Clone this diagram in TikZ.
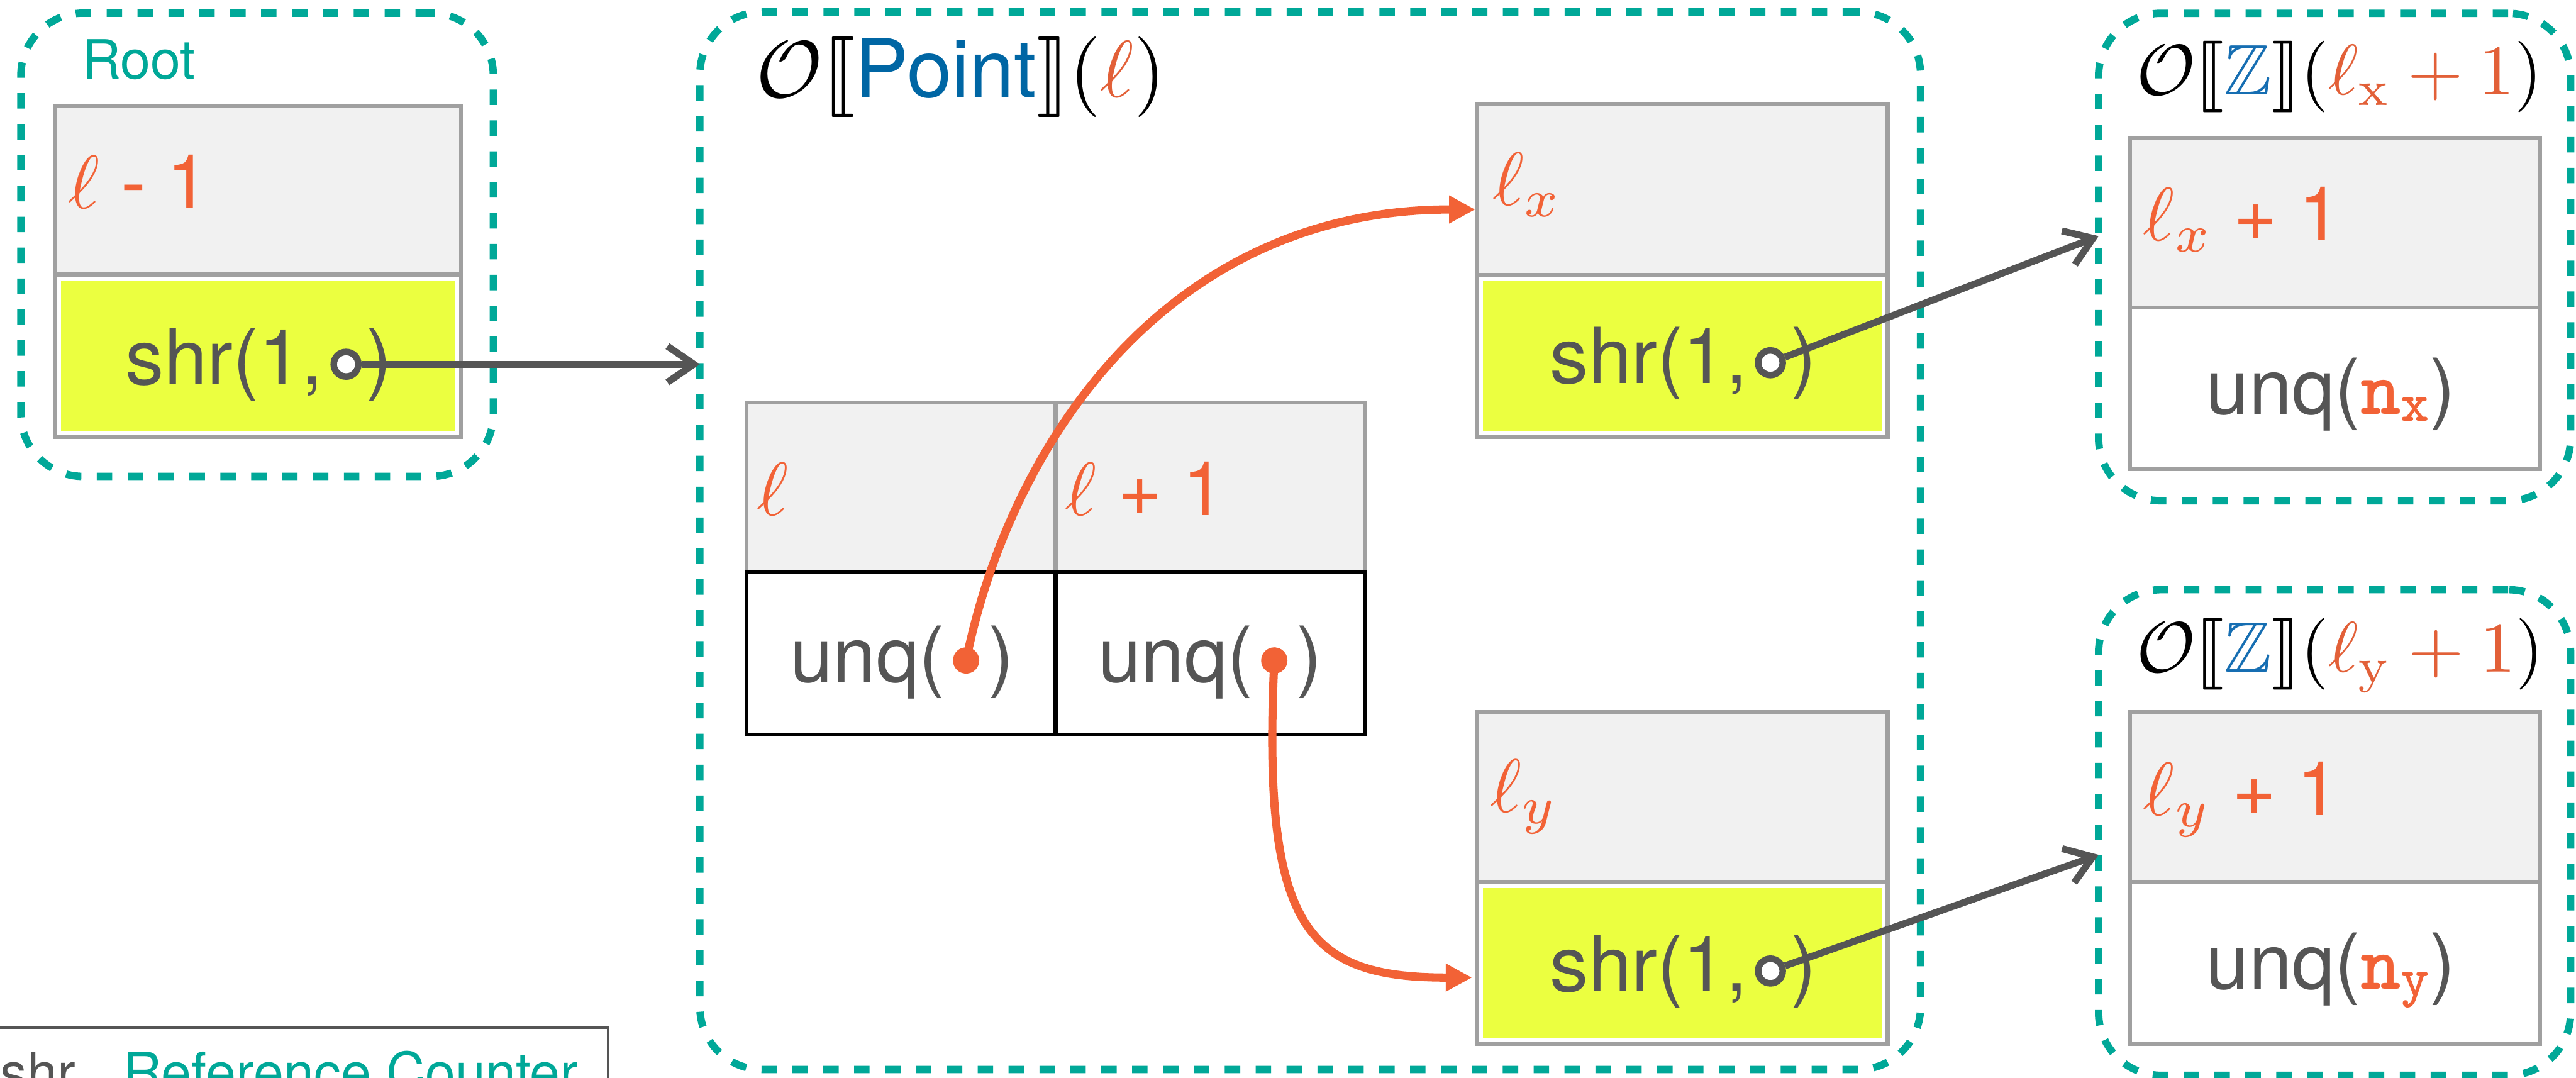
\documentclass[tikz,border=0pt]{standalone}
\usepackage[no-math]{fontspec}
\setmainfont{TeX Gyre Heros}
\usepackage{amssymb}
\usepackage{stmaryrd}
\usepackage{graphicx}
\usetikzlibrary{arrows.meta,fit}

\definecolor{rcteal}{RGB}{0,168,152}
\definecolor{accent}{RGB}{242,98,54}
\definecolor{titleaccent}{RGB}{226,96,56}
\definecolor{ink}{RGB}{85,85,85}
\definecolor{cellline}{RGB}{160,160,160}
\definecolor{hdrfill}{RGB}{241,241,241}
\definecolor{shrfill}{RGB}{235,255,64}
\definecolor{typeblue}{RGB}{0,102,164}
\definecolor{zblue}{RGB}{22,110,178}

% text sizes (10pt base, scaled)
\newcommand{\cellsz}[1]{\scalebox{4.7}{#1}}
\newcommand{\hdrsz}[1]{\scalebox{4.6}{\color{accent}#1}}
\newcommand{\smallsz}[1]{\scalebox{3.3}{#1}}
\newcommand{\codeid}[2]{{\color{accent}\ttfamily\bfseries #1\raisebox{-0.9pt}{\fontsize{7}{7}\selectfont #2}}}

\begin{document}
\begin{tikzpicture}[x=1pt,y=-1pt,
  dbox/.style={draw=rcteal, line width=4.5pt, dash pattern=on 9.4pt off 9.4pt,
               rounded corners=38pt, inner sep=0pt, outer sep=0pt},
  cell/.style={rectangle, inner sep=0pt, outer sep=0pt, line width=2.4pt},
  hdr/.style={cell, draw=cellline, fill=hdrfill},
  plain/.style={cell, draw=cellline, fill=white},
  strong/.style={cell, draw=black, fill=white},
  txt/.style={inner sep=0pt, outer sep=0pt, anchor=base west, text=ink},
  ring/.style={circle, draw=ink, fill=white, line width=4pt, minimum size=15pt, inner sep=0pt},
  refdot/.style={circle, fill=accent, minimum size=16pt, inner sep=0pt},
  garrow/.style={draw=ink, line width=4.2pt, -{Straight Barb[length=16pt, width=22pt]}},
  oarrow/.style={draw=accent, line width=5pt, -{Triangle[length=16pt, width=16pt]}},
]
\useasboundingbox (0,0) rectangle (1568,656);
\clip (0,0) rectangle (1568,656);

% ---- group frames ----
\node[dbox, fit={(12.7,8) (300.3,290)}] (rootbox) {};
\node[dbox, fit={(426,7.3) (1169,651)}] (midbox) {};
\node[dbox, fit={(1277.4,8.1) (1564.7,304.8)}] (rtbox) {};
\node[dbox, fit={(1277.4,358.9) (1564.7,654.5)}] (rbbox) {};

% ---- Root ----
\node[txt, text=rcteal] (rootlbl) at (49.8,48.2) {\smallsz{Root}};
\node[hdr, fit={(33.5,64.2) (280.5,167.1)}] (rootH) {};
\node[plain, fit={(33.5,167.1) (280.5,265.9)}] (rootS) {};
\fill[shrfill] ([shift={(3.8,3.8)}]rootS.north west) rectangle ([shift={(-3.8,-3.8)}]rootS.south east);
\node[txt] (rootHt) at (41.6,127) {\hdrsz{$\ell$ - 1}};
\node[txt] (rootSt) at (76.5,234.2) {\cellsz{shr(1,}};
\node[ring] (rootring) at ([shift={(14,-12.5)}]rootSt.base east) {};
\node[txt] (rootSp) at ([xshift=26.5pt]rootSt.base east) {\cellsz{)}};

% ---- O[[Point]](l) ----
\node[txt, text=black] (midtitle) at (460.5,59) {\scalebox{4.9}{$\mathcal{O}\llbracket\mbox{\color{typeblue}Point}\rrbracket(\textcolor{titleaccent}{\ell})$}};
\node[hdr, fit={(454.5,245) (642.5,348.4)}] (pl) {};
\node[hdr, fit={(642.5,245) (831,348.4)}] (pr) {};
\node[strong, fit={(454.5,348.4) (642.5,447)}] (ul) {};
\node[strong, fit={(642.5,348.4) (831,447)}] (ur) {};
\node[txt] (plt) at (460.6,313.8) {\hdrsz{$\ell$}};
\node[txt] (prt) at (648.4,313.8) {\hdrsz{$\ell$ + 1}};
\node[txt] (ult) at (481,415) {\cellsz{unq(}};
\node[refdot] (dotl) at ([shift={(13,-13)}]ult.base east) {};
\node[txt] (ulp) at ([xshift=26.5pt]ult.base east) {\cellsz{)}};
\node[txt] (urt) at (668.6,415) {\cellsz{unq(}};
\node[refdot] (dotr) at ([shift={(13,-13)}]urt.base east) {};
\node[txt] (urp) at ([xshift=26.5pt]urt.base east) {\cellsz{)}};

% field l_x
\node[hdr, fit={(899,63.3) (1149,167.4)}] (lxH) {};
\node[plain, fit={(899,167.4) (1149,266)}] (lxS) {};
\fill[shrfill] ([shift={(3.8,3.8)}]lxS.north west) rectangle ([shift={(-3.8,-3.8)}]lxS.south east);
\node[txt] (lxHt) at (908.6,124.8) {\hdrsz{$\ell_x$}};
\node[txt] (lxSt) at (943.5,233.3) {\cellsz{shr(1,}};
\node[ring] (lxring) at ([shift={(14,-12.5)}]lxSt.base east) {};
\node[txt] (lxSp) at ([xshift=26.5pt]lxSt.base east) {\cellsz{)}};

% field l_y
\node[hdr, fit={(899,433.4) (1149,536.8)}] (lyH) {};
\node[plain, fit={(899,536.8) (1149,635.5)}] (lyS) {};
\fill[shrfill] ([shift={(3.8,3.8)}]lyS.north west) rectangle ([shift={(-3.8,-3.8)}]lyS.south east);
\node[txt] (lyHt) at (907.2,494.3) {\hdrsz{$\ell_y$}};
\node[txt] (lySt) at (943.5,603.5) {\cellsz{shr(1,}};
\node[ring] (lyring) at ([shift={(14,-12.5)}]lySt.base east) {};
\node[txt] (lySp) at ([xshift=26.5pt]lySt.base east) {\cellsz{)}};

% ---- O[[Z]](l_x + 1) ----
\node[txt, text=black] (rttitle) at (1300.5,57.5) {\scalebox{4.35}{$\mathcal{O}\llbracket\textcolor{zblue}{\mathbb{Z}}\rrbracket(\textcolor{titleaccent}{\ell_{\mathrm{x}}+1})$}};
\node[hdr, fit={(1296.5,83.8) (1546,187.3)}] (nxH) {};
\node[plain, fit={(1296.5,187.3) (1546,285.6)}] (nxS) {};
\node[txt] (nxHt) at (1304.6,146.3) {\hdrsz{$\ell_x$ + 1}};
\node[txt] (nxSt) at (1342.8,251.9) {\cellsz{unq(\codeid{n}{x})}};

% ---- O[[Z]](l_y + 1) ----
\node[txt, text=black] (rbtitle) at (1300.5,409) {\scalebox{4.35}{$\mathcal{O}\llbracket\textcolor{zblue}{\mathbb{Z}}\rrbracket(\textcolor{titleaccent}{\ell_{\mathrm{y}}+1})$}};
\node[hdr, fit={(1296.5,433.5) (1546,536.7)}] (nyH) {};
\node[plain, fit={(1296.5,536.7) (1546,635.3)}] (nyS) {};
\node[txt] (nyHt) at (1304.6,496.4) {\hdrsz{$\ell_y$ + 1}};
\node[txt] (nySt) at (1342.8,602.1) {\cellsz{unq(\codeid{n}{y})}};

% ---- legend ----
\node[draw=ink, line width=1.4pt, inner sep=0pt, outer sep=0pt, fit={(-20,625.4) (370,700)}] (legend) {};
\node[txt] (legshr) at (0.3,664.5) {\smallsz{shr}};
\node[txt, text=rcteal] (legrc) at (74.8,664.5) {\smallsz{Reference Counter}};

% ---- pointers ----
\coordinate (lxin) at (898,127.5);
\coordinate (lyin) at (896,595);
\coordinate (rtin) at (1277.4,143.7);
\coordinate (rbin) at (1277.4,520.3);

\draw[oarrow] (dotl.center) .. controls (615,270) and (710,127.5) .. (lxin);
\draw[oarrow] (dotr.center) .. controls (768,565) and (795,595) .. (lyin);
\draw[garrow] (rootring) -- (rootring -| midbox.west);
\draw[garrow] (lxring) -- (rtin);
\draw[garrow] (lyring) -- (rbin);
\end{tikzpicture}
\end{document}
